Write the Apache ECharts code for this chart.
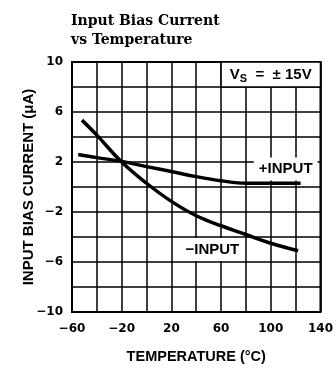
<!DOCTYPE html>
<html>
<head>
<meta charset="utf-8">
<script src="https://cdn.jsdelivr.net/npm/echarts@6/dist/echarts.min.js"></script>
<style>
  html, body { margin: 0; padding: 0; background: #fff; }
  #chart { width: 336px; height: 369px; }
</style>
</head>
<body>
<div id="chart"></div>
<script>
// Chart text
const titleText = 'Input Bias Current\nvs Temperature';
const xAxisName = 'TEMPERATURE (°C)';
const yAxisName = 'INPUT BIAS CURRENT (μA)';

// Labelled ticks (grid lines fall every 20 °C and every 2 μA)
const xTickLabels = [-60, -20, 20, 60, 100, 140];
const yTickLabels = [10, 6, 2, -2, -6, -10];

// −INPUT bias current (μA) vs temperature (°C)
const minusTemps = [-52, -40, -20, 0, 20, 40, 60, 80, 100, 122];
const minusInput = [5.35, 4.15, 2.0, 0.3, -1.15, -2.3, -3.1, -3.8, -4.5, -5.1];

// +INPUT bias current (μA) vs temperature (°C)
const plusTemps = [-55, -40, -20, 0, 20, 40, 60, 80, 100, 124];
const plusInput = [2.6, 2.35, 2.05, 1.63, 1.24, 0.83, 0.5, 0.3, 0.3, 0.3];

const pairs = (xs, ys) => xs.map((x, i) => [x, ys[i]]);
const fmtTick = (list) => (v) => list.some(t => Math.abs(t - v) < 1e-6)
  ? String(Math.round(v)).replace('-', '\u2212') : '';

const labelFont = { fontFamily: 'Liberation Sans', fontWeight: 'bold', color: '#000' };

const chart = echarts.init(document.getElementById('chart'), null, { renderer: 'canvas' });
chart.setOption({
  animation: false,
  backgroundColor: '#fff',
  title: {
    text: titleText,
    left: 66,
    top: 7,
    textStyle: {
      fontFamily: 'DejaVu Serif',
      fontWeight: 'bold',
      fontSize: 14,
      lineHeight: 19,
      color: '#000'
    }
  },
  grid: {
    left: 72, right: 13, top: 62, bottom: 53,
    show: true, borderColor: '#000', borderWidth: 2, backgroundColor: 'transparent'
  },
  xAxis: {
    type: 'value',
    min: -60, max: 140, interval: 20,
    name: xAxisName,
    nameLocation: 'middle',
    nameGap: 37,
    nameMoveOverlap: false,
    nameTextStyle: { ...labelFont, fontSize: 14.5 },
    axisLine: { show: false },
    axisTick: { show: false },
    splitLine: { show: true, lineStyle: { color: '#000', width: 1.5 } },
    axisLabel: {
      formatter: fmtTick(xTickLabels),
      showMinLabel: true, showMaxLabel: true,
      margin: 11,
      fontFamily: 'DejaVu Sans', fontWeight: 'bold', fontSize: 12, color: '#000'
    }
  },
  yAxis: {
    type: 'value',
    min: -10, max: 10, interval: 2,
    name: yAxisName,
    nameLocation: 'middle',
    nameGap: 36,
    nameMoveOverlap: false,
    nameRotate: 90,
    nameTextStyle: { ...labelFont, fontSize: 15 },
    axisLine: { show: false },
    axisTick: { show: false },
    splitLine: { show: true, lineStyle: { color: '#000', width: 1.5 } },
    axisLabel: {
      formatter: fmtTick(yTickLabels),
      showMinLabel: true, showMaxLabel: true,
      margin: 9,
      fontFamily: 'DejaVu Sans', fontWeight: 'bold', fontSize: 12, color: '#000'
    }
  },
  series: [
    {
      name: '-INPUT',
      type: 'line',
      data: pairs(minusTemps, minusInput),
      smooth: 0.4,
      showSymbol: false,
      lineStyle: { color: '#000', width: 3.5 },
      markPoint: {
        silent: true,
        symbol: 'rect',
        symbolSize: 1,
        itemStyle: { color: 'rgba(0,0,0,0)' },
        label: {
          show: true, position: 'inside', formatter: '\u2212INPUT',
          ...labelFont, fontSize: 15,
          backgroundColor: '#fff', padding: [4, 5]
        },
        data: [{ coord: [53, -5.0] }]
      },
      markArea: {
        silent: true,
        itemStyle: { color: '#fff', borderColor: '#000', borderWidth: 1.5 },
        label: {
          show: true, position: 'inside',
          formatter: 'V{s|S}  =  \u00b1 15V',
          ...labelFont, fontSize: 15,
          rich: {
            s: { fontFamily: 'Liberation Sans', fontWeight: 'bold', fontSize: 11, color: '#000', padding: [8, 0, 0, 0] }
          }
        },
        data: [[{ coord: [60, 10] }, { coord: [140, 8] }]]
      }
    },
    {
      name: '+INPUT',
      type: 'line',
      data: pairs(plusTemps, plusInput),
      smooth: 0.4,
      showSymbol: false,
      lineStyle: { color: '#000', width: 3.5 },
      markPoint: {
        silent: true,
        symbol: 'rect',
        symbolSize: 1,
        itemStyle: { color: 'rgba(0,0,0,0)' },
        label: {
          show: true, position: 'inside', formatter: '+INPUT',
          ...labelFont, fontSize: 15,
          backgroundColor: '#fff', padding: [4, 5]
        },
        data: [{ coord: [112, 1.45] }]
      }
    }
  ]
});
</script>
</body>
</html>
